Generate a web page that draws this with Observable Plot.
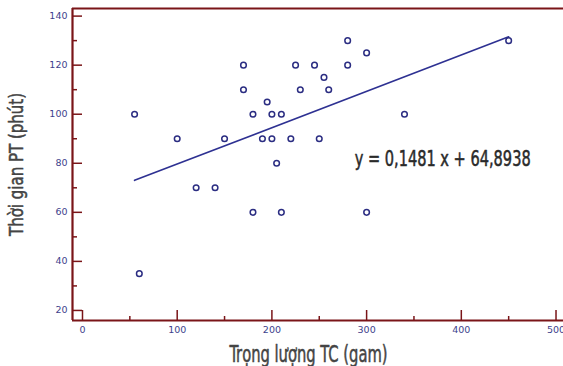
<!DOCTYPE html>
<html><head><meta charset="utf-8">
<script src="https://cdn.jsdelivr.net/npm/d3@7"></script>
<script src="https://cdn.jsdelivr.net/npm/@observablehq/plot@0.6"></script>
<style>body{margin:0;background:#fff;overflow:hidden}</style>
</head><body><div id="chart"></div>
<script>
// Data: Trọng lượng TC (gam) vs Thời gian PT (phút)
const weight = [55, 60, 100, 120, 140, 150, 170, 170, 180, 180, 195, 190, 200, 200, 205, 210, 210, 220, 225, 230, 245, 250, 255, 260, 280, 280, 300, 300, 340, 450];
const time   = [100, 35, 90, 70, 70, 90, 120, 110, 100, 60, 105, 90, 100, 90, 80, 100, 60, 90, 120, 110, 120, 90, 115, 110, 130, 120, 125, 60, 100, 130];
const slope = 0.1481, intercept = 64.8938;
const fitRange = [55, 450];
const xDomain = [-10.55, 507.9];
const yDomain = [15.9, 143.1];
const xMajor = [0, 100, 200, 300, 400, 500];
const xMinor = [50, 150, 250, 350, 450];
const yMajor = [20, 40, 60, 80, 100, 120, 140];
const yMinor = [30, 50, 70, 90, 110, 130];
const xTitle = "Trọng lượng TC (gam)";
const yTitle = "Thời gian PT (phút)";
const equation = "y = 0,1481 x + 64,8938";
const eqAt = {x: 287.4, y: 81.6};

const axisColor = "#7a1518";
const tickText = "#3d3f8c";
const dotColor = "#2b2d82";
const lineColor = "#2e3192";
const titleColor = "#444444";
const condensed = "'Liberation Sans Narrow','DejaVu Sans Condensed','Roboto Condensed',sans-serif";

const points = weight.map((w, i) => ({w, t: time[i]}));
const fit = fitRange.map(x => ({x, y: slope * x + intercept}));

const chart = Plot.plot({
  width: 563, height: 366,
  marginLeft: 72, marginRight: 0, marginTop: 8, marginBottom: 46,
  x: {domain: xDomain},
  y: {domain: yDomain},
  style: {fontFamily: "'DejaVu Sans', Verdana, sans-serif", fontSize: "9.5px", background: "#fff"},
  marks: [
    // inward ticks
    Plot.axisY({ticks: yMajor, tickSize: 10, dx: 10, fill: "none", stroke: axisColor, strokeWidth: 1.5, label: null}),
    Plot.axisY({ticks: yMinor, tickSize: 5, dx: 5, fill: "none", stroke: axisColor, strokeWidth: 1.5, label: null}),
    Plot.axisX({ticks: xMajor, tickSize: 10, dy: -10, fill: "none", stroke: axisColor, strokeWidth: 1.5, label: null}),
    Plot.axisX({ticks: xMinor, tickSize: 4, dy: -4, fill: "none", stroke: axisColor, strokeWidth: 1.5, label: null}),
    // labels
    Plot.axisY({ticks: yMajor, tickSize: 0, tickPadding: 5, fill: tickText, label: null}),
    Plot.axisX({ticks: xMajor, tickSize: 0, tickPadding: 6, fill: tickText, label: null}),
    // frame lines
    Plot.ruleX([xDomain[0]], {stroke: axisColor, strokeWidth: 2.2}),
    Plot.ruleY([yDomain[0], yDomain[1]], {stroke: axisColor, strokeWidth: 2.2}),
    // fit line
    Plot.line(fit, {x: "x", y: "y", stroke: lineColor, strokeWidth: 1.6}),
    // points
    Plot.dot(points, {x: "w", y: "t", r: 2.8, stroke: dotColor, strokeWidth: 1.5, fill: "none"}),
    // equation
    Plot.text([equation], {x: eqAt.x, y: eqAt.y, text: d => d, textAnchor: "start", lineAnchor: "middle", fontSize: 21.5, fontFamily: condensed, fill: "#2a2a2a", stroke: "#2a2a2a", strokeWidth: 0.5}),
    // axis titles
    Plot.text([yTitle], {frameAnchor: "left", text: d => d, rotate: -90, textAnchor: "middle", lineAnchor: "middle", dx: -55.6, dy: 0, fontSize: 19.5, fontFamily: condensed, fill: titleColor, stroke: titleColor, strokeWidth: 0.5}),
    Plot.text([xTitle], {frameAnchor: "bottom", text: d => d, textAnchor: "middle", lineAnchor: "middle", dx: -9.5, dy: 34.5, fontSize: 23, fontFamily: condensed, fill: titleColor, stroke: titleColor, strokeWidth: 0.5})
  ]
});

const svg = d3.select(chart);
const fitLen = {[xTitle]: 158, [yTitle]: 143, [equation]: 176};
svg.selectAll("text").each(function() {
  const t = this.textContent;
  if (fitLen[t]) {
    d3.select(this).attr("textLength", fitLen[t]).attr("lengthAdjust", "spacingAndGlyphs");
  }
});
document.getElementById("chart").append(chart);
</script>
</body></html>
